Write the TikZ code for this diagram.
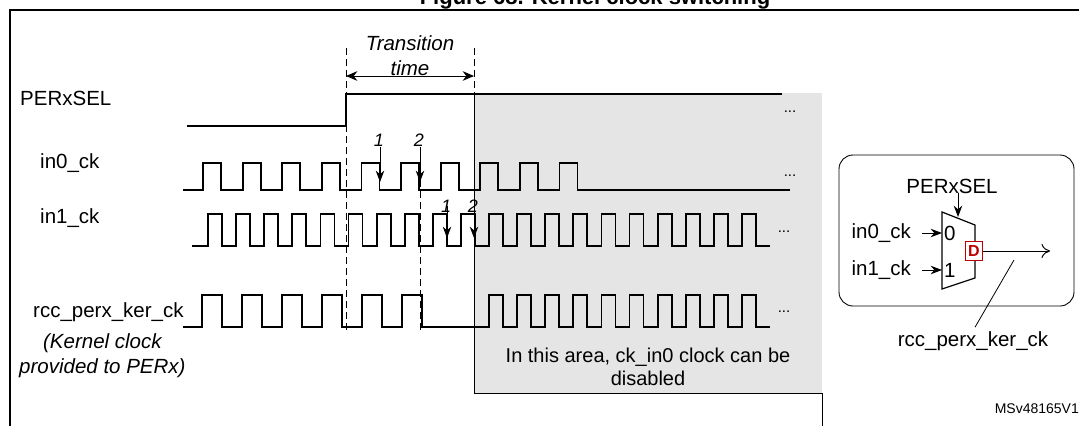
\documentclass[tikz,border=0pt]{standalone}
\usepackage{fontspec}
\setmainfont{Liberation Sans}
\usetikzlibrary{arrows.meta, positioning}

\begin{document}
\begin{tikzpicture}[
    x=1pt, y=-1pt,
    lbl/.style={font=\fontsize{20.5}{24}\selectfont, inner sep=0pt},
    note/.style={font=\fontsize{20.5}{25}\selectfont\itshape, align=center, inner sep=0pt},
    sig/.style={line width=1.8pt, line join=miter},
    guide/.style={line width=0.7pt, dash pattern=on 7pt off 4pt},
    arrow/.style={-{Stealth[length=4mm, width=3mm]}, line width=1pt},
    dots/.style={font=\fontsize{15}{17}\selectfont, inner sep=0pt},
]
\useasboundingbox (0,0) rectangle (1079,426);

% frame and title
\node[font=\fontsize{22}{25}\selectfont\bfseries, inner sep=0pt] (title) at (595,-1) {Figure 68. Kernel clock switching};
\draw[line width=1.8pt] (10,426) -- (10,10) -- (1079,10);
\node[font=\fontsize{14}{16}\selectfont, anchor=east, inner sep=0pt] (ref) at (1079,409) {MSv48165V1};

% grey area
\fill[gray!20] (474,93) rectangle (822,393);
\draw[line width=0.9pt] (474,93) -- (474,393) -- (822,393) -- (822,426);
\node[lbl, align=center, font=\fontsize{20}{23}\selectfont] (area) at (648,367) {In this area, ck\_in0 clock can be\\disabled};

% transition time
\coordinate (t0) at (346,76);
\coordinate (t1) at (474,76);
\draw[guide] (346,48) -- (346,332);
\draw[guide] (474,48) -- (474,93);
\draw[guide] (420,180) -- (420,332);
\draw[{Stealth[length=4mm, width=3.4mm]}-{Stealth[length=4mm, width=3.4mm]}, line width=1pt] (t0) -- (t1);
\node[note] (tt) at (410,56) {Transition\\time};

% signal labels
\node[lbl, anchor=west] (selL) at (20,98) {PERxSEL};
\node[lbl, anchor=west] (in0L) at (40,163) {in0\_ck};
\node[lbl, anchor=west] (in1L) at (40,218) {in1\_ck};
\node[lbl, anchor=west] (outL) at (33,312) {rcc\_perx\_ker\_ck};
\node[note, below=12pt of outL, xshift=-6pt] (kern) {(Kernel clock\\provided to PERx)};

% PERxSEL
\draw[sig] (187,126) -- (346,126) -- (346,94) -- (782,94);
\node[dots] (d1) at (790,112) {...};

% in0_ck
\draw[sig] (183,190) \foreach \k in {0,...,9}{ -- ({203+39.6*\k},190) -- ({203+39.6*\k},163) -- ({221+39.6*\k},163) -- ({221+39.6*\k},190) } -- (790,190);
\node[dots] (d2) at (790,176) {...};

% in1_ck
\draw[sig] (192,246) \foreach \k in {0,...,19}{ -- ({208+28.1*\k},246) -- ({208+28.1*\k},214) -- ({222+28.1*\k},214) -- ({222+28.1*\k},246) } -- (770,246);
\node[dots] (d3) at (784,232) {...};

% rcc_perx_ker_ck
\draw[sig] (183,327) \foreach \k in {0,...,5}{ -- ({202+40*\k},327) -- ({202+40*\k},295) -- ({222+40*\k},295) -- ({222+40*\k},327) }
    \foreach \k in {10,...,19}{ -- ({208+28.1*\k},327) -- ({208+28.1*\k},295) -- ({222+28.1*\k},295) -- ({222+28.1*\k},327) } -- (770,327);
\node[dots] (d4) at (784,312) {...};

% switching edges
\foreach \x/\n/\y/\a/\b in {380/1/140/147/182, 420/2/140/147/182, 447/1/206/206/238, 474/2/206/206/238}{
  \node[font=\fontsize{18}{20}\selectfont\itshape, inner sep=0pt] (e\x) at (\x-1,\y) {\n};
  \coordinate (f\x) at (\x,\b);
  \draw[arrow] (\x,\a) -- (f\x);
}

% mux block
\draw[rounded corners=14pt, line width=0.9pt] (839,155) rectangle (1074,306);
\draw[line width=1.2pt] (942,212) -- (975,225) -- (975,278) -- (942,289) -- cycle;
\node[lbl] (mSel) at (952,186) {PERxSEL};
\node[lbl, anchor=east] (mIn0) at (911,233) {in0\_ck};
\node[lbl, anchor=east] (mIn1) at (911,270) {in1\_ck};
\node[lbl, anchor=west] (p0) at (944,233) {0};
\node[lbl, anchor=west] (p1) at (944,270) {1};
\coordinate (selIn) at (958,217);
\coordinate (in0In) at (942,233);
\coordinate (in1In) at (942,270);
\draw[arrow] (mSel.south -| selIn) -- (selIn);
\draw[arrow] (mIn0.east) ++(11,0) -- (in0In);
\draw[arrow] (mIn1.east) ++(11,0) -- (in1In);
\node[draw=red!75!black, line width=1.1pt, fill=white, minimum width=17pt, minimum height=19pt, inner sep=0pt, text=red!75!black, font=\fontsize{16}{16}\selectfont\bfseries] (ff) at (974,251) {D};
\coordinate (outEnd) at (1050,251);
\draw[-{To[length=3mm, width=5mm]}, line width=1pt] (ff.east) -- (outEnd);
\node[lbl] (mOut) at (973,341) {rcc\_perx\_ker\_ck};
\coordinate (lead) at (1014,260);
\draw[line width=0.8pt] (mOut.north) ++(2,-4) -- (lead);
\end{tikzpicture}
\end{document}
